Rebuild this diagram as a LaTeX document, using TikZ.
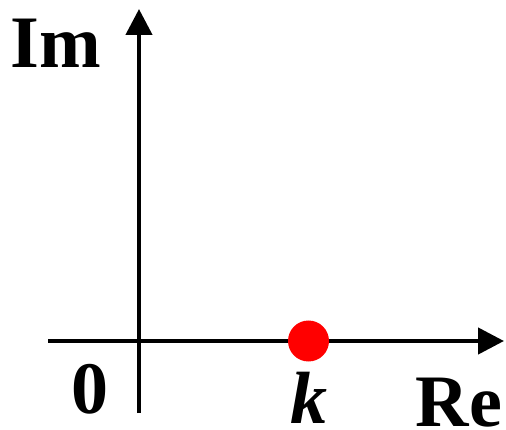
\documentclass[tikz,border=0pt]{standalone}
\usepackage{fontspec}
\setmainfont{Liberation Serif}
\usetikzlibrary{arrows.meta}
\tikzset{
	axarr/.style={-{Triangle[length=26pt,width=26pt]}, line width=4.5pt, draw=black},
	lbl/.style={inner sep=0pt, anchor=base, text depth=0pt, font=\fontsize{74}{74}\selectfont\bfseries},
	pole/.style={circle, fill=red, inner sep=0pt, minimum size=41pt},
}
\begin{document}
\begin{tikzpicture}[x=1pt, y=-1pt]
	\useasboundingbox (0,0) rectangle (506,430);
	% axes
	\coordinate (xl) at (48,341);
	\coordinate (xr) at (504,341);
	\coordinate (yb) at (139,413);
	\coordinate (yt) at (139,9);
	\draw[axarr] (xl) -- (xr);
	\draw[axarr] (yb) -- (yt);
	% pole on the real axis
	\node[pole] (kdot) at (308.5,341) {};
	% labels
	\node[lbl] (im) at (56,68) {Im};
	\node[lbl] (zero) at (89.5,413) {0};
	\node[lbl, font=\fontsize{74}{74}\selectfont\bfseries\itshape] (klbl) at (309,423) {k};
	\node[lbl] (re) at (459,426) {Re};
\end{tikzpicture}
\end{document}
